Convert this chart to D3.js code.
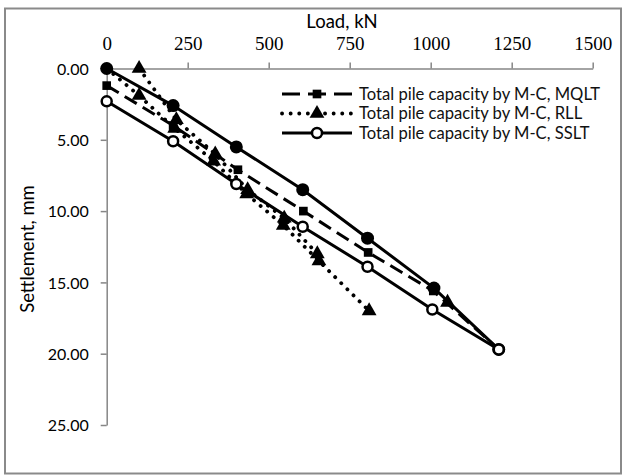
<!DOCTYPE html>
<html lang="en">
<head>
    <meta charset="utf-8">
    <title>Load - settlement</title>
    <script src="https://d3js.org/d3.v7.min.js"></script>
    <style type="text/css">
        body { margin: 0; background: #fff; }
        .ylab text { font-family: Lato, "Noto Sans", sans-serif; font-size: 16px; }
        .xlab text { font-family: "Liberation Serif", serif; font-size: 19px; }
    </style>
</head>
<body>
<script type="text/javascript">
    // tick values
    var loadTicks = [0, 250, 500, 750, 1000, 1250, 1500];
    var settleTicks = [0, 5, 10, 15, 20, 25];

    // series: [load kN, settlement mm]
    var mqlt = [[0, 1.2], [205, 4.0], [405, 7.1], [607, 10.0], [807, 12.9], [1008, 15.6], [1210, 19.7]];
    var rll = [[0, 0], [100, 1.9], [210, 4.2], [330, 6.5], [432, 8.8], [545, 11.0], [655, 13.5], [810, 17.0]];
    var rll2 = [[100, 0], [215, 3.6], [335, 6.0], [435, 8.5], [548, 10.5], [650, 13.0]];
    var sslt = [[0, 2.3], [205, 5.1], [400, 8.1], [605, 11.1], [805, 13.9], [1005, 16.9], [1210, 19.7]];
    var measured = [[0, 0], [205, 2.6], [400, 5.5], [605, 8.5], [805, 11.9], [1010, 15.4], [1210, 19.7]];
    var extraTri = [[1052, 16.4]];

    var legendNames = ["Total pile capacity by M-C, MQLT", "Total pile capacity by M-C, RLL", "Total pile capacity by M-C, SSLT"];

    var width = 622, height = 475;
    var svg = d3.select("body").append("svg")
        .attr("width", width)
        .attr("height", height);

    // outer chart frame
    svg.append("rect")
        .attr("x", 5).attr("y", 8.5)
        .attr("width", 616).attr("height", 465)
        .attr("fill", "none")
        .attr("stroke", "#8a8a8a")
        .attr("stroke-width", 2);

    var x = d3.scaleLinear().domain([0, 1500]).range([106.7, 592.7]);
    var y = d3.scaleLinear().domain([0, 25]).range([68.5, 425]);

    svg.append("g")
        .attr("class", "xlab")
        .attr("transform", "translate(0," + y(0) + ")")
        .call(d3.axisTop(x).tickValues(loadTicks).tickSize(6).tickSizeOuter(0).tickPadding(13).tickFormat(d3.format("d")));

    var yAxis = svg.append("g")
        .attr("class", "ylab")
        .attr("transform", "translate(" + x(0) + ",0)")
        .call(d3.axisLeft(y).tickValues(settleTicks).tickSize(6).tickSizeOuter(0).tickPadding(12).tickFormat(d3.format(".2f")));

    svg.selectAll(".domain, .tick line")
        .attr("stroke", "#868686")
        .attr("stroke-width", 1.5);
    svg.selectAll(".tick text").attr("fill", "#000");
    yAxis.selectAll(".tick text").attr("dy", "0.35em");

    // axis titles
    svg.append("text")
        .attr("x", 342).attr("y", 28)
        .attr("text-anchor", "middle")
        .attr("font-family", "Lato, 'Noto Sans', sans-serif")
        .attr("font-size", 18.5)
        .text("Load, kN");

    svg.append("text")
        .attr("transform", "translate(34,249) rotate(-90)")
        .attr("text-anchor", "middle")
        .attr("font-family", "Lato, 'Noto Sans', sans-serif")
        .attr("font-size", 18.5)
        .text("Settlement, mm");

    var line = d3.line()
        .x(function(d) { return x(d[0]); })
        .y(function(d) { return y(d[1]); });

    function drawLine(data, dash, cap, w) {
        svg.append("path")
            .datum(data)
            .attr("d", line)
            .attr("fill", "none")
            .attr("stroke", "#000")
            .attr("stroke-width", w || 3)
            .attr("stroke-linecap", cap || "butt")
            .attr("stroke-dasharray", dash || null);
    }

    var dashLong = "14,7";
    var dotted = "0.1,8.5";

    drawLine(sslt);
    drawLine(measured);
    drawLine(mqlt, dashLong);
    drawLine(rll, dotted, "round", 3.8);
    drawLine(rll2, dotted, "round", 3.8);

    var tri = d3.symbol().type(d3.symbolTriangle).size(95);
    var sq = d3.symbol().type(d3.symbolSquare).size(75);

    function drawSymbols(data, sym) {
        svg.append("g").selectAll("path")
            .data(data)
            .enter()
            .append("path")
            .attr("transform", function(d) { return "translate(" + x(d[0]) + "," + y(d[1]) + ")"; })
            .attr("d", sym)
            .attr("fill", "#000");
    }

    drawSymbols(mqlt, sq);
    // the RLL start point at the origin is hidden under the measured curve's marker
    drawSymbols(rll.slice(1), tri);
    drawSymbols(rll2, tri);
    drawSymbols(extraTri, tri);

    svg.append("g").selectAll("circle")
        .data(measured)
        .enter()
        .append("circle")
        .attr("cx", function(d) { return x(d[0]); })
        .attr("cy", function(d) { return y(d[1]); })
        .attr("r", 6.5)
        .attr("fill", "#000");

    svg.append("g").selectAll("circle")
        .data(sslt)
        .enter()
        .append("circle")
        .attr("cx", function(d) { return x(d[0]); })
        .attr("cy", function(d) { return y(d[1]); })
        .attr("r", 5)
        .attr("fill", "#fff")
        .attr("stroke", "#000")
        .attr("stroke-width", 2.5);

    // legend
    var legend = svg.append("g").attr("transform", "translate(282,94)");
    var legendDash = ["18,8", dotted, null];
    var legendSym = [sq, tri, null];

    legendNames.forEach(function(name, i) {
        var g = legend.append("g").attr("transform", "translate(0," + (i * 19.5) + ")");
        g.append("line")
            .attr("x1", 0).attr("x2", 70)
            .attr("stroke", "#000")
            .attr("stroke-width", i === 1 ? 3.8 : 3)
            .attr("stroke-linecap", i === 1 ? "round" : "butt")
            .attr("stroke-dasharray", legendDash[i]);
        if (legendSym[i]) {
            g.append("path")
                .attr("transform", "translate(35,0)")
                .attr("d", legendSym[i])
                .attr("fill", "#000");
        } else {
            g.append("circle")
                .attr("cx", 35).attr("r", 5)
                .attr("fill", "#fff")
                .attr("stroke", "#000")
                .attr("stroke-width", 2.5);
        }
        g.append("text")
            .attr("x", 77)
            .attr("dy", "0.35em")
            .attr("font-family", "Lato, 'Noto Sans', sans-serif")
            .attr("font-size", 16.6)
            .attr("fill", "#111")
            .text(name);
    });
</script>
</body>
</html>
